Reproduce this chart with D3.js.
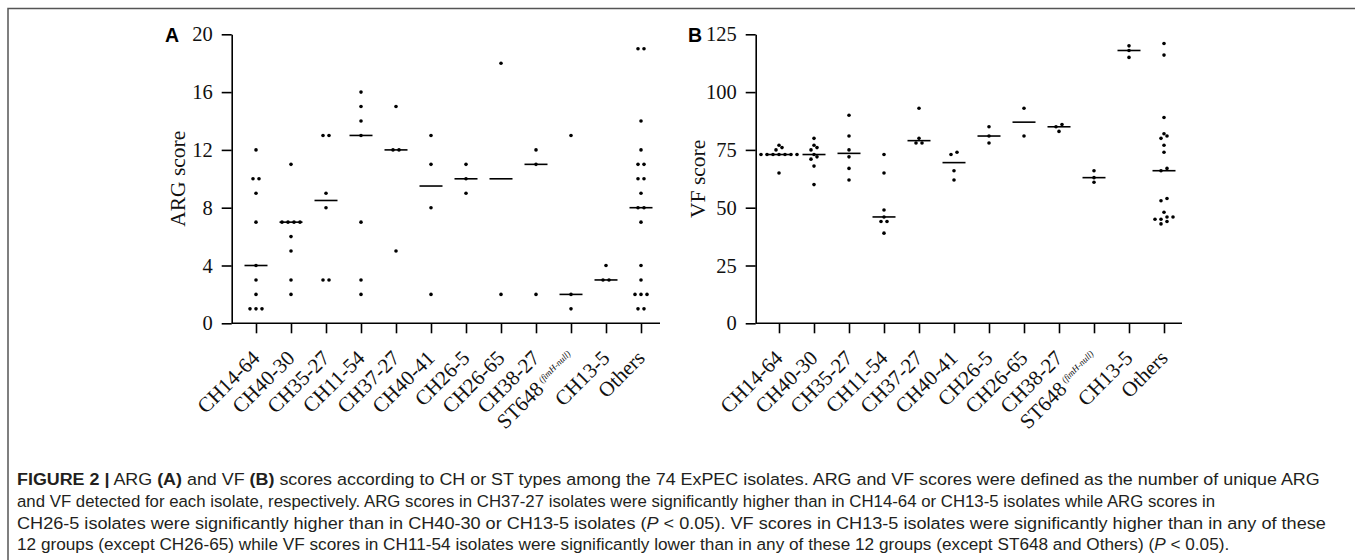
<!DOCTYPE html>
<html lang="en">
<head>
<meta charset="UTF-8">
<title>ARG and VF scores</title>
<style>
  body { margin: 0; background: #fff; }
  svg { display: block; }
</style>
</head>
<body>
<script src="https://cdn.jsdelivr.net/npm/d3@7"></script>
<script>
// ---- data ----
var groups = ["CH14-64","CH40-30","CH35-27","CH11-54","CH37-27","CH40-41",
              "CH26-5","CH26-65","CH38-27","ST648","CH13-5","Others"];

var argScores = [
  [12,10,10,9,7,4,3,2,1,1,1],
  [11,7,7,7,7,6,5,3,2],
  [13,13,9,8,3,3],
  [16,15,14,13,7,3,2],
  [15,12,12,5],
  [13,11,8,2],
  [11,10,9],
  [18,2],
  [12,11,2],
  [13,2,1],
  [4,3,3],
  [19,19,14,12,11,11,10,10,9,8,8,7,4,3,2,2,2,1,1]
];

var vfScores = [
  [77,76,75,73,73,73,73,73,73,73,65],
  [80,77,76,75,73,72,71,68,60],
  [90,81,75,72,67,62],
  [73,65,49,46,44,44,39],
  [93,80,78,78],
  [74,73,66,62],
  [85,81,78],
  [93,81],
  [86,85,83],
  [66,63,61],
  [120,118,115],
  [121,116,89,82,81,80,77,74,67,66,54,53,48,46,46,45,45,44,43]
];

var argTicks = [0,4,8,12,16,20];
var vfTicks = [0,25,50,75,100,125];

var width = 1355;
var height = 560;

var svg = d3.select('body').append('svg').attr('width',width).attr('height',height);

// outer frame (top and left edge)
svg.append('path')
   .attr('d','M8,560V8.5H1355')
   .attr('fill','none').attr('stroke','#555').attr('stroke-width',1.5);

var serif = '"Liberation Serif","Times New Roman",serif';
var sans = '"Liberation Sans",Arial,sans-serif';

// spread dots with (nearly) the same value into centred rows
function swarm(vals, y, gap, rowH) {
  var pts = vals.map(function(v){ return {v:v, y:y(v)}; })
                .sort(function(a,b){ return b.y - a.y; });
  var rows = [], cur = null;
  pts.forEach(function(p){
    if (!cur || Math.abs(p.y - cur[0].y) > rowH) { cur = []; rows.push(cur); }
    cur.push(p);
  });
  rows.forEach(function(r){
    r.forEach(function(p,i){ p.dx = (i - (r.length-1)/2) * gap; });
  });
  return pts;
}

function panel(o) {
  var y = d3.scaleLinear().domain([0, o.max]).range([o.bottom, o.top]);
  var x = d3.scalePoint().domain(groups).range([o.left + o.inset, o.left + o.inset + 35*(groups.length-1)]);

  var g = svg.append('g');

  // y axis
  var ya = g.append('g').attr('transform','translate('+o.left+',0)')
    .call(d3.axisLeft(y).tickValues(o.ticks).tickSize(10).tickPadding(9).tickSizeOuter(0));
  ya.select('.domain').attr('stroke-width',1.6);
  ya.selectAll('.tick line').attr('stroke-width',1.6);
  ya.selectAll('text').attr('font-family',serif).attr('font-size',20.5).attr('fill','#111');

  // x axis
  var xa = g.append('g').attr('transform','translate(0,'+o.bottom+')')
    .call(d3.axisBottom(x).tickSize(10).tickFormat(''));
  xa.select('.domain').remove();
  xa.selectAll('.tick line').attr('stroke-width',1.6);
  g.append('line').attr('x1',o.left).attr('x2',o.right)
   .attr('y1',o.bottom).attr('y2',o.bottom)
   .attr('stroke','#000').attr('stroke-width',1.6);

  // rotated category labels
  groups.forEach(function(c){
    var t = g.append('text')
      .attr('transform','translate('+(x(c)+5)+','+(o.bottom+36)+') rotate(-45)')
      .attr('text-anchor','end')
      .attr('font-family',serif).attr('font-size',21).attr('fill','#111');
    if (c === 'ST648') {
      t.append('tspan').text('ST648');
      t.append('tspan').attr('dx',3).attr('dy',-7).attr('font-size',9)
       .attr('font-style','italic').text('(fimH-null)');
    } else {
      t.text(c);
    }
  });

  // axis title
  g.append('text')
   .attr('transform','translate('+o.titleX+','+((o.top+o.bottom)/2)+') rotate(-90)')
   .attr('text-anchor','middle')
   .attr('font-family',serif).attr('font-size',21.5).attr('fill','#111')
   .text(o.title);

  // panel letter
  g.append('text').attr('x',o.letterX).attr('y',41.5)
   .attr('font-family',sans).attr('font-weight','bold').attr('font-size',19.5)
   .text(o.letter);

  // dots and medians
  o.data.forEach(function(vals,i){
    var cx = x(groups[i]);
    var pts = swarm(vals, y, 6, o.rowH);
    g.selectAll(null).data(pts).enter().append('circle')
     .attr('cx',function(p){ return cx + p.dx; })
     .attr('cy',function(p){ return p.y; })
     .attr('r',1.8).attr('fill','#000');
    var m = d3.median(vals);
    g.append('line')
     .attr('x1',cx-11.5).attr('x2',cx+11.5)
     .attr('y1',y(m)).attr('y2',y(m))
     .attr('stroke','#000').attr('stroke-width',1.6);
  });
}

panel({left:231.7, right:660, top:34.3, bottom:323.3, inset:24.3, max:20,
       ticks:argTicks, data:argScores, title:'ARG score', titleX:185,
       letter:'A', letterX:165, rowH:4});

panel({left:755.7, right:1182, top:34.3, bottom:323.3, inset:23.3, max:125,
       ticks:vfTicks, data:vfScores, title:'VF score', titleX:705,
       letter:'B', letterX:688, rowH:4});

// ---- caption ----
var caption = [
  {y:485, w:1304, parts:[['FIGURE 2 |','b'],[' ARG ',''],['(A)','b'],[' and VF ',''],['(B)','b'],
    [' scores according to CH or ST types among the 74 ExPEC isolates. ARG and VF scores were defined as the number of unique ARG','']]},
  {y:507, w:1199, parts:[['and VF detected for each isolate, respectively. ARG scores in CH37-27 isolates were significantly higher than in CH14-64 or CH13-5 isolates while ARG scores in','']]},
  {y:528.5, w:1310, parts:[['CH26-5 isolates were significantly higher than in CH40-30 or CH13-5 isolates (',''],['P','i'],
    [' < 0.05). VF scores in CH13-5 isolates were significantly higher than in any of these','']]},
  {y:550, w:1213, parts:[['12 groups (except CH26-65) while VF scores in CH11-54 isolates were significantly lower than in any of these 12 groups (except ST648 and Others) (',''],
    ['P','i'],[' < 0.05).','']]}
];

caption.forEach(function(line){
  var t = svg.append('text')
    .attr('font-family',sans).attr('font-size',17).attr('fill','#231f20')
    .attr('xml:space','preserve');
  line.parts.forEach(function(p){
    var s = t.append('tspan').text(p[0]);
    if (p[1]==='b') s.attr('font-weight','bold');
    if (p[1]==='i') s.attr('font-style','italic');
  });
  var w = t.node().getComputedTextLength();
  t.attr('transform','translate(17,'+line.y+') scale('+(line.w/w)+',1)');
});
</script>
</body>
</html>
